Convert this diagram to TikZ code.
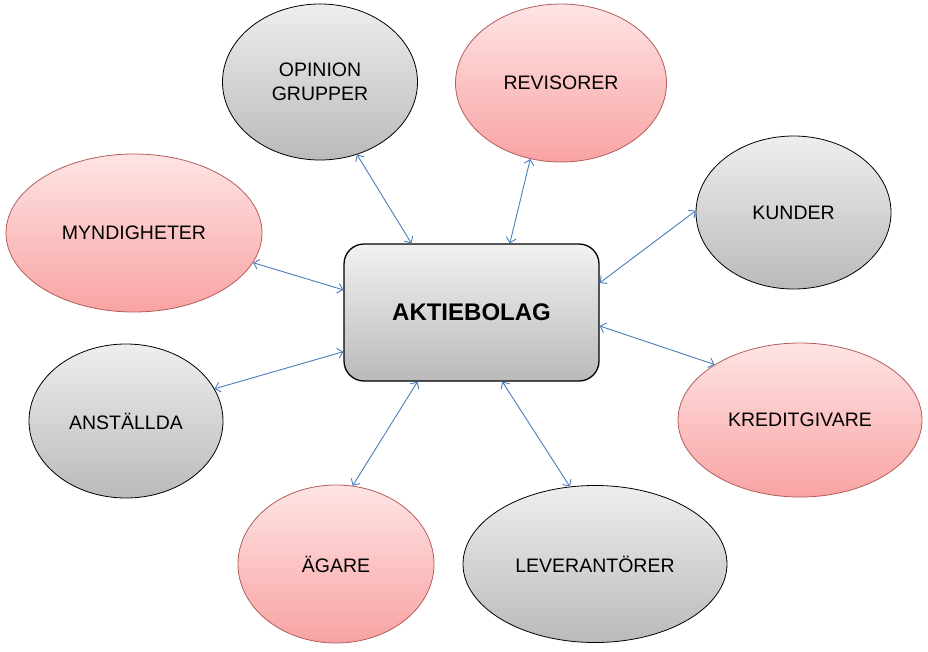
\documentclass[tikz,border=0pt]{standalone}
\usepackage{fontspec}
\setmainfont{Liberation Sans}
\usetikzlibrary{shapes.geometric, arrows.meta}
\definecolor{linkblue}{RGB}{74, 126, 187}
\definecolor{greytop}{RGB}{238, 238, 238}
\definecolor{greybot}{RGB}{186, 186, 186}
\definecolor{pinktop}{RGB}{254, 228, 228}
\definecolor{pinkbot}{RGB}{249, 163, 163}
\definecolor{pinkline}{RGB}{180, 92, 92}

\begin{document}
\begin{tikzpicture}[
  x=1pt, y=-1pt,
  party/.style={ellipse, inner sep=0pt, align=center, line width=0.8pt, font=\fontsize{19.5}{24}\selectfont},
  greyparty/.style={party, draw=black, top color=greytop, bottom color=greybot},
  pinkparty/.style={party, draw=pinkline, top color=pinktop, bottom color=pinkbot},
  hub/.style={draw, line width=1.3pt, rounded corners=20pt, minimum width=255pt, minimum height=137pt, top color=greytop!80!white, bottom color=greybot, font=\fontsize{24}{28}\selectfont\bfseries},
  link/.style={{Straight Barb[length=5pt,width=10pt]}-{Straight Barb[length=5pt,width=10pt]}, draw=linkblue, line width=0.9pt}
]
  \useasboundingbox (0,0) rectangle (928,651);

  \node[hub] (ab) at (471.5,312.5) {AKTIEBOLAG};

  \node[greyparty, minimum width=195pt, minimum height=156pt] (opinion) at (320,82) {OPINION\\GRUPPER};
  \node[pinkparty, minimum width=211pt, minimum height=158pt] (revisorer) at (561,83) {REVISORER};
  \node[greyparty, minimum width=195pt, minimum height=153pt] (kunder) at (793.5,212.5) {KUNDER};
  \node[pinkparty, minimum width=256pt, minimum height=158pt] (myndigheter) at (134,233) {MYNDIGHETER};
  \node[greyparty, minimum width=194pt, minimum height=154pt] (anstallda) at (126,421) {ANSTÄLLDA};
  \node[pinkparty, minimum width=244pt, minimum height=154pt] (kreditgivare) at (800,420) {KREDITGIVARE};
  \node[pinkparty, minimum width=196pt, minimum height=158pt] (agare) at (336,564) {ÄGARE};
  \node[greyparty, minimum width=264pt, minimum height=157pt] (leverantorer) at (595,564) {LEVERANTÖRER};

  \draw[link] (opinion.-63) -- (ab.131.5);
  \draw[link] (revisorer.-112.6) -- (ab.61.6);
  \draw[link] (kunder.179) -- (ab.13.4);
  \draw[link] (myndigheter.-14) -- (ab.170.1);
  \draw[link] (anstallda.20.5) -- (ab.-163.3);
  \draw[link] (kreditgivare.147.8) -- (ab.-6);
  \draw[link] (agare.78.4) -- (ab.-128);
  \draw[link] (leverantorer.108) -- (ab.-66);
\end{tikzpicture}
\end{document}
